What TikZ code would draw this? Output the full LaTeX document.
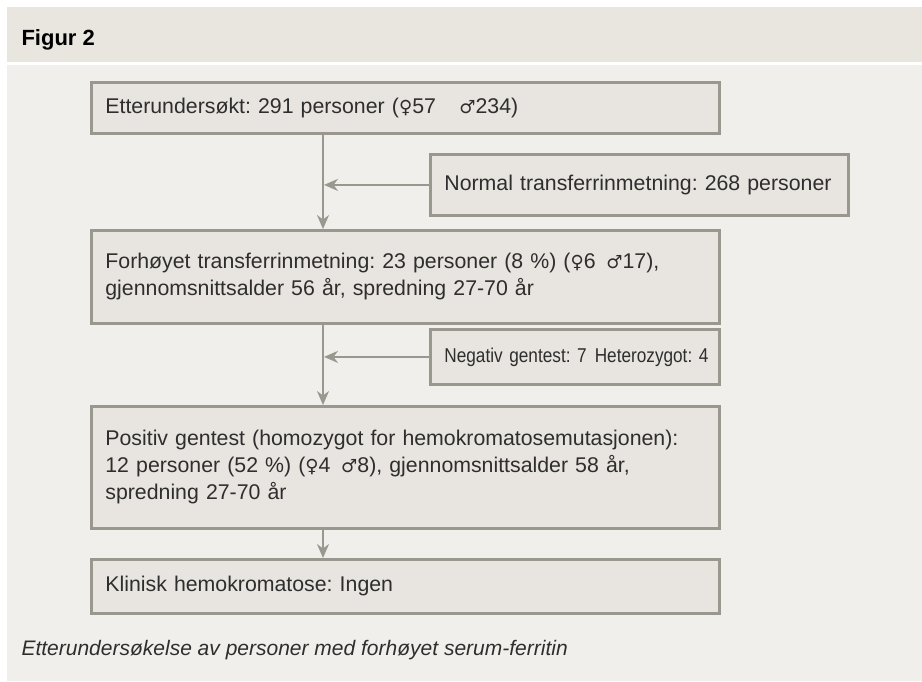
\documentclass[tikz,border=0pt]{standalone}
\usepackage{fontspec}
\setmainfont{Liberation Sans}
\newfontfamily\symfont[Scale=0.85]{DejaVu Sans}
\usetikzlibrary{arrows.meta}

\definecolor{bandgray}{HTML}{E9E6E0}
\definecolor{bodygray}{HTML}{F0EFEB}
\definecolor{boxfill}{HTML}{E8E4DF}
\definecolor{linegray}{HTML}{9A978E}
\definecolor{inkgray}{HTML}{2E2E2E}

\newcommand{\kvinne}{{\symfont ♀}}
\newcommand{\mann}{{\symfont ♂}}
\frenchspacing

\tikzset{
  box/.style={draw=linegray, line width=2.8pt, fill=boxfill, anchor=north west,
    inner xsep=14pt, inner ysep=0pt, align=left, text=inkgray},
  arr/.style={draw=linegray, line width=2pt,
    -{Stealth[length=14pt, width=12pt, inset=4.5pt]}}
}

\begin{document}
\begin{tikzpicture}[x=1pt, y=-1pt, font=\fontsize{21.3}{27}\selectfont]
  \useasboundingbox (0, 0) rectangle (922, 681);

  % bakgrunn
  \fill[white] (0, 0) rectangle (922, 681);
  \fill[bandgray] (7, 7) rectangle (922, 62);
  \fill[bodygray] (7, 65) rectangle (922, 681);

  \node[anchor=base west, font=\bfseries\fontsize{22}{26}\selectfont] at (18, 45) (title) {Figur 2};

  % bokser
  \node[box, text width=600pt, minimum height=51pt] at (90, 81) (screen)
    {\mbox{Etterundersøkt: 291 personer (\kvinne57\hspace{1.1em}\mann234)}};
  \node[box, text width=390pt, minimum height=61pt] at (429, 153) (normal)
    {\mbox{Normal transferrinmetning: 268 personer}};
  \node[box, text width=600pt, minimum height=93pt] at (90, 229) (raised)
    {\mbox{Forhøyet transferrinmetning: 23 personer (8~\%) (\kvinne6\hspace{0.5em}\mann17),}\\
     \mbox{gjennomsnittsalder 56 år, spredning 27-70 år}};
  \node[box, text width=261pt, minimum height=55pt, font=\fontsize{20}{27}\selectfont] at (429, 328) (gentest)
    {\addfontfeature{FakeStretch=0.86}\mbox{Negativ gentest: 7\hspace{0.4em}Heterozygot: 4}};
  \node[box, text width=600pt, minimum height=122pt] at (90, 405) (homo)
    {\mbox{Positiv gentest (homozygot for hemokromatosemutasjonen):}\\
     \mbox{12 personer (52~\%) (\kvinne4\hspace{0.5em}\mann8), gjennomsnittsalder 58 år,}\\
     \mbox{spredning 27-70 år}};
  \node[box, text width=600pt, minimum height=54pt] at (90, 558) (clinic)
    {\mbox{Klinisk hemokromatose: Ingen}};

  % piler
  \coordinate (trunk) at (323, 0);
  \draw[arr] (screen.south -| trunk) -- (raised.north -| trunk);
  \draw[arr] (normal.west) -- ([xshift=1pt]normal.west -| trunk);
  \draw[arr] (raised.south -| trunk) -- (homo.north -| trunk);
  \draw[arr] (gentest.west) -- ([xshift=1pt]gentest.west -| trunk);
  \draw[arr] (homo.south -| trunk) -- (clinic.north -| trunk);

  \node[anchor=base west, text=inkgray, font=\itshape\fontsize{21}{26}\selectfont] at (18, 655) (caption)
    {Etterundersøkelse av personer med forhøyet serum-ferritin};
\end{tikzpicture}
\end{document}
